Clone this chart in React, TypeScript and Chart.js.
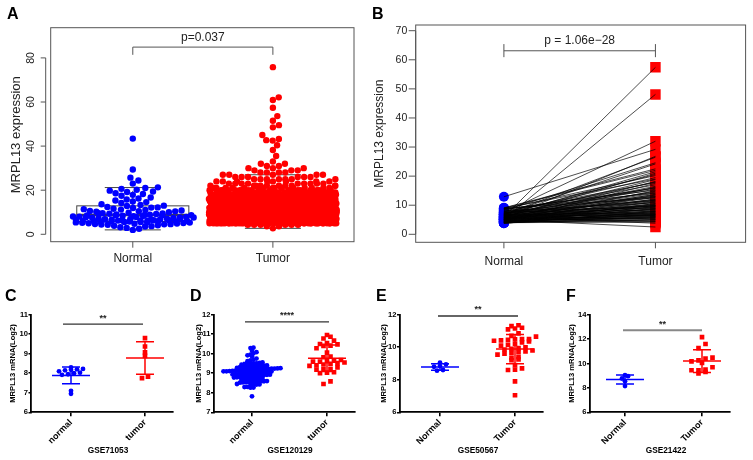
import React, { useEffect, useRef } from "react";
import { Chart, registerables } from "chart.js";

Chart.register(...registerables);

const FONT = "'Liberation Sans', Arial, Helvetica, sans-serif";
const BLUE = "#0000ff";
const RED = "#ff0000";

// ===== Panel A : unpaired TCGA =====
const groupsAB = ["Normal", "Tumor"];
const yTicksA = [0, 20, 40, 60, 80];
const normalA = [
  43.4, 29.4, 25.7, 24.4, 23.0, 21.3, 21.0, 20.6, 20.2, 19.8,
  19.4, 19.2, 18.6, 18.3, 17.9, 17.5, 16.7, 16.2, 15.8, 15.3,
  14.9, 14.6, 14.2, 13.6, 13.3, 13.0, 12.8, 12.4, 12.2, 12.1,
  11.9, 11.6, 11.4, 11.2, 11.0, 10.8, 10.6, 10.5, 10.4, 10.2,
  10.0, 9.8, 9.7, 9.6, 9.5, 9.3, 9.2, 9.0, 8.9, 8.8,
  8.7, 8.6, 8.6, 8.5, 8.4, 8.3, 8.2, 8.1, 8.0, 7.9,
  7.8, 7.7, 7.6, 7.6, 7.5, 7.4, 7.3, 7.2, 7.1, 7.0,
  6.9, 6.8, 6.7, 6.6, 6.6, 6.5, 6.4, 6.3, 6.3, 6.2,
  6.2, 6.1, 6.1, 6.0, 6.0, 5.9, 5.9, 5.8, 5.8, 5.7,
  5.6, 5.6, 5.5, 5.4, 5.3, 5.2, 5.1, 5.0, 4.9, 4.8,
  4.7, 4.6, 4.5, 4.4, 4.3, 4.1, 3.9, 3.7, 3.5, 3.2, 2.9, 2.5, 2.0,
];
const tumorLevelsA = [2.7, 3.6, 4.3, 5, 6, 7, 8, 9, 10, 11, 12, 13, 14, 15, 16, 17, 18, 19, 20, 21, 22, 23, 24, 25, 26, 27, 28, 29, 30, 31, 32, 33];
const tumorCountsA = [1, 2, 6, 45, 60, 70, 75, 75, 70, 65, 60, 55, 50, 45, 40, 35, 30, 25, 20, 14, 10, 9, 8, 7, 6, 5, 4, 3, 3, 2, 2, 1];
const tumorHighA = [35.5, 38.2, 40.4, 42.5, 42.7, 43.2, 45.0, 48.5, 49.5, 51.5, 53.6, 57.4, 60.9, 62.1, 75.8];
const normalBoxA = [2.0, 5.8, 8.7, 12.9, 21.2];
const tumorBoxA = [2.7, 7.0, 10.5, 15.5, 27.0];
const pTextA = "p=0.037";

// ===== Panel B : paired TCGA =====
const yTicksB = [0, 10, 20, 30, 40, 50, 60, 70];
const normalB = [
  12.9, 6.0, 5.2, 7.5, 6.8, 8.2, 5.5, 7.0, 9.0, 6.5,
  5.8, 8.8, 7.2, 6.1, 5.0, 4.6, 7.8, 6.3, 5.4, 8.5,
  6.9, 4.8, 5.9, 7.3, 6.6, 5.1, 4.4, 6.2, 7.7, 5.6,
  8.9, 4.9, 6.4, 5.3, 7.1, 4.2, 6.0, 8.0, 5.7, 4.7,
  6.7, 5.2, 7.4, 4.5, 6.3, 5.5, 8.3, 4.1, 6.1, 5.0,
  7.6, 4.8, 5.8, 3.8, 6.6, 5.3, 4.4, 7.0, 5.6, 4.0,
  6.2, 5.1, 4.1, 4.7, 6.8, 5.4, 4.3, 3.9, 5.9, 4.6,
  3.9, 5.2, 4.9, 6.4, 4.2, 4.2, 5.5, 4.5, 4.0, 6.0,
  5.0, 7.9, 8.9, 8.6, 4.0, 4.0, 5.7, 6.9, 7.2, 4.3,
  5.1, 6.5, 3.8, 8.7, 5.8, 4.6, 6.7, 9.1, 7.4, 5.3,
];
const tumorB = [
  29.2, 57.4, 48.1, 32.0, 26.5, 24.6, 26.8, 24.2, 22.0, 21.5,
  21.0, 20.2, 19.5, 18.8, 18.2, 17.5, 17.0, 16.5, 16.2, 15.8,
  15.5, 15.0, 14.8, 14.5, 14.1, 13.8, 13.5, 13.2, 13.0, 12.7,
  12.5, 12.2, 12.0, 11.8, 11.5, 11.2, 11.0, 10.8, 10.5, 10.3,
  10.1, 9.9, 9.7, 9.5, 9.3, 9.1, 9.0, 8.8, 8.6, 8.5,
  8.3, 8.1, 8.0, 7.8, 7.7, 7.5, 7.4, 7.2, 7.1, 7.0,
  6.9, 6.8, 6.6, 6.5, 6.4, 6.2, 6.1, 6.0, 5.9, 5.8,
  5.6, 5.5, 5.3, 5.1, 5.0, 4.9, 4.6, 4.4, 4.2, 3.8,
  2.5, 17.8, 19.0, 14.2, 9.6, 10.6, 12.9, 20.6, 16.0, 8.9,
  11.4, 13.6, 7.9, 15.2, 9.8, 6.7, 18.0, 22.5, 11.7, 10.0,
];
const pTextB = "p = 1.06e\u221228";

// ===== Panels C-F : GEO datasets =====
const yTitleGP = "MRPL13 mRNA(Log2)";

const groupsC = ["normal", "tumor"];
const yTicksC = [6, 7, 8, 9, 10, 11];
const normalC = [8.3, 8.22, 8.2, 8.18, 8.15, 8.1, 8.03, 8.0, 7.95, 7.92, 7.1, 6.95];
const tumorC = [9.8, 9.37, 9.07, 8.89, 7.83, 7.75];
const normalStatsC = [7.89, 0.43];
const tumorStatsC = [8.78, 0.83];

const groupsD = ["normal", "tumor"];
const yTicksD = [7, 8, 9, 10, 11, 12];
const normalD = [
  10.31, 10.29, 10.15, 10.08, 10.02, 9.95, 9.92, 9.87, 9.75, 9.7, 9.66, 9.62,
  9.55, 9.53, 9.51, 9.5, 9.48, 9.47, 9.45, 9.44,
  9.4, 9.39, 9.38, 9.37, 9.36, 9.35, 9.34, 9.33, 9.32, 9.31,
  9.27, 9.26, 9.25, 9.24, 9.23, 9.22, 9.22, 9.21, 9.2, 9.2, 9.19, 9.18, 9.17, 9.16,
  9.14, 9.13, 9.13, 9.12, 9.11, 9.1, 9.1, 9.09, 9.08, 9.07, 9.06, 9.05, 9.04, 9.03,
  9.0, 8.99, 8.98, 8.97, 8.96, 8.95, 8.94, 8.93, 8.92, 8.91, 8.9,
  8.87, 8.86, 8.85, 8.84, 8.83, 8.82, 8.8, 8.79, 8.78, 8.76,
  8.72, 8.71, 8.7, 8.69, 8.68, 8.67, 8.66,
  8.6, 8.59, 8.58, 8.57, 8.57, 8.56, 8.55, 8.54, 8.53, 8.52,
  8.45, 8.43, 8.42, 8.4, 8.38, 8.3, 8.29, 8.27, 8.26, 7.82,
];
const tumorD = [
  10.96, 10.87, 10.78, 10.67, 10.55, 10.5, 10.48, 10.42, 10.4, 10.28, 10.06,
  9.85, 9.82, 9.68, 9.65, 9.62, 9.6, 9.6, 9.55, 9.52, 9.48, 9.45, 9.4, 9.38,
  9.3, 9.22, 9.2, 9.18, 9.05, 9.03, 9.0, 8.58, 8.45,
];
const normalStatsD = [9.1, 0.45];
const tumorStatsD = [9.77, 0.68];

const groupsE = ["Normal", "Tumor"];
const yTicksE = [6, 8, 10, 12];
const normalE = [9.05, 8.95, 8.84, 8.8, 8.6, 8.56];
const tumorE = [
  11.35, 11.3, 11.2, 11.15, 11.1, 10.85, 10.7, 10.65, 10.5, 10.5, 10.48, 10.45, 10.42,
  10.4, 10.35, 10.3, 10.2, 10.15, 10.1, 10.0, 9.95, 9.9, 9.85, 9.8, 9.75, 9.7,
  9.65, 9.6, 9.55, 9.4, 9.35, 9.25, 9.2, 8.9, 8.7, 8.62, 8.6, 7.9, 7.05,
];
const normalStatsE = [8.78, 0.2];
const tumorStatsE = [9.89, 0.9];

const groupsF = ["Normal", "Tumor"];
const yTicksF = [6, 8, 10, 12, 14];
const normalF = [9.04, 8.96, 8.77, 8.55, 8.15];
const tumorF = [12.16, 11.6, 11.26, 10.48, 10.4, 10.26, 10.18, 10.05, 9.69, 9.5, 9.45, 9.45, 9.3, 9.18];
const normalStatsF = [8.69, 0.37];
const tumorStatsF = [10.2, 0.93];

const datasetTitles = ["GSE71053", "GSE120129", "GSE50567", "GSE21422"];
const panelLetters = ["A", "B", "C", "D", "E", "F"];

// ---------- helpers ----------
function expandLevels(levels: number[], counts: number[]): number[] {
  const out: number[] = [];
  levels.forEach((v, i) => {
    for (let k = 0; k < counts[i]; k++) out.push(v);
  });
  return out;
}

// bee-swarm layout in pixel space (R beeswarm-like): returns horizontal offsets (px)
function swarm(ys: number[], d: number, half: number): number[] {
  const order = ys.map((_, i) => i).sort((a, b) => ys[a] - ys[b] || a - b);
  const placed: number[][] = [];
  const out: number[] = new Array(ys.length).fill(0);
  const d2 = d * d;
  let k = 0;
  for (const i of order) {
    const y = ys[i];
    const near = placed.filter((p) => Math.abs(p[1] - y) < d);
    const cands = [0];
    for (const p of near) {
      const dx = Math.sqrt(Math.max(0, d2 - (p[1] - y) * (p[1] - y)));
      cands.push(p[0] + dx, p[0] - dx);
    }
    cands.sort((a, b) => Math.abs(a) - Math.abs(b) || b - a);
    let best: number | null = null;
    for (const c of cands) {
      if (Math.abs(c) > half) break;
      let ok = true;
      for (const p of near) {
        if ((p[0] - c) * (p[0] - c) + (p[1] - y) * (p[1] - y) < d2 - 1e-6) {
          ok = false;
          break;
        }
      }
      if (ok) {
        best = c;
        break;
      }
    }
    if (best === null) {
      k++;
      out[i] = -half + 2 * half * ((k * 0.6180339887) % 1);
    } else {
      out[i] = best;
      placed.push([best, y]);
    }
  }
  return out;
}

// GraphPad-like scatter layout: bin into rows, spread each row horizontally (px)
function rowSpread(ys: number[], rowH: number, s: number): number[] {
  const rows = new Map<number, number[]>();
  ys.forEach((y, i) => {
    const r = Math.round(y / rowH);
    if (!rows.has(r)) rows.set(r, []);
    rows.get(r)!.push(i);
  });
  const out: number[] = new Array(ys.length).fill(0);
  rows.forEach((idx) => {
    idx.sort((a, b) => ys[a] - ys[b]);
    const n = idx.length;
    idx.forEach((id, j) => {
      out[id] = (j - (n - 1) / 2) * s;
    });
  });
  return out;
}

// R-style decorations: boxplots, frame, axis lines, bracket with p-value
function rPlugin(o: any) {
  return {
    id: "rstyle",
    beforeDatasetsDraw(chart: any) {
      const { ctx, scales } = chart;
      const x = scales.x;
      const y = scales.y;
      const X = (v: number) => x.getPixelForValue(v);
      const Y = (v: number) => y.getPixelForValue(v);
      ctx.save();
      for (const b of o.boxes || []) {
        const [mn, q1, med, q3, mx] = b.stats;
        const xl = X(b.center - 0.4);
        const xr = X(b.center + 0.4);
        const cx = X(b.center);
        const sl = X(b.center - 0.2);
        const sr = X(b.center + 0.2);
        ctx.strokeStyle = "#444";
        ctx.lineWidth = 1;
        ctx.setLineDash([]);
        ctx.strokeRect(xl, Y(q3), xr - xl, Y(q1) - Y(q3));
        ctx.beginPath();
        ctx.moveTo(sl, Y(mn));
        ctx.lineTo(sr, Y(mn));
        ctx.moveTo(sl, Y(mx));
        ctx.lineTo(sr, Y(mx));
        ctx.stroke();
        ctx.lineWidth = 2.5;
        ctx.beginPath();
        ctx.moveTo(xl, Y(med));
        ctx.lineTo(xr, Y(med));
        ctx.stroke();
        ctx.lineWidth = 1;
        ctx.setLineDash([3, 3]);
        ctx.beginPath();
        ctx.moveTo(cx, Y(q3));
        ctx.lineTo(cx, Y(mx));
        ctx.moveTo(cx, Y(q1));
        ctx.lineTo(cx, Y(mn));
        ctx.stroke();
        ctx.setLineDash([]);
      }
      ctx.restore();
    },
    afterDraw(chart: any) {
      const { ctx, chartArea: ca, scales } = chart;
      const x = scales.x;
      const y = scales.y;
      ctx.save();
      ctx.strokeStyle = "#555";
      ctx.lineWidth = 1;
      ctx.strokeRect(ca.left, ca.top, ca.right - ca.left, ca.bottom - ca.top);
      const ax = ca.left - o.axisGap;
      const yt = y.ticks.map((t: any) => y.getPixelForValue(t.value));
      ctx.beginPath();
      ctx.moveTo(ax, yt[0]);
      ctx.lineTo(ax, yt[yt.length - 1]);
      for (const py of yt) {
        ctx.moveTo(ax, py);
        ctx.lineTo(ax - o.tickLen, py);
      }
      for (const t of x.ticks) {
        const px = x.getPixelForValue(t.value);
        ctx.moveTo(px, ca.bottom);
        ctx.lineTo(px, ca.bottom + o.xTickLen);
      }
      ctx.stroke();
      const bk = o.bracket;
      const p1 = x.getPixelForValue(bk.x1);
      const p2 = x.getPixelForValue(bk.x2);
      const pb = y.getPixelForValue(bk.yBar);
      const pt = y.getPixelForValue(bk.yTop);
      const pbo = y.getPixelForValue(bk.yBot);
      ctx.beginPath();
      ctx.moveTo(p1, pb);
      ctx.lineTo(p2, pb);
      ctx.moveTo(p1, pt);
      ctx.lineTo(p1, pbo);
      ctx.moveTo(p2, pt);
      ctx.lineTo(p2, pbo);
      ctx.stroke();
      ctx.fillStyle = "#222";
      ctx.font = `12px ${FONT}`;
      ctx.textAlign = "center";
      ctx.textBaseline = "middle";
      ctx.fillText(bk.text, (p1 + p2) / 2, y.getPixelForValue(bk.yText));
      ctx.restore();
    },
  };
}

// GraphPad-style decorations: mean +/- SD and significance bar
function gpPlugin(p: any) {
  return {
    id: "gp",
    afterDatasetsDraw(chart: any) {
      const { ctx, scales } = chart;
      const x = scales.x;
      const y = scales.y;
      ctx.save();
      [p.nStats, p.tStats].forEach((s: number[], g: number) => {
        const [m, sd] = s;
        const cx = x.getPixelForValue(g);
        const ym = y.getPixelForValue(m);
        const yu = y.getPixelForValue(m + sd);
        const yl = y.getPixelForValue(m - sd);
        ctx.strokeStyle = g === 0 ? BLUE : RED;
        ctx.lineWidth = 1.5;
        ctx.beginPath();
        ctx.moveTo(cx - 19, ym);
        ctx.lineTo(cx + 19, ym);
        ctx.moveTo(cx, yu);
        ctx.lineTo(cx, yl);
        ctx.moveTo(cx - 9, yu);
        ctx.lineTo(cx + 9, yu);
        ctx.moveTo(cx - 9, yl);
        ctx.lineTo(cx + 9, yl);
        ctx.stroke();
      });
      const [x1, x2, yv] = p.sig;
      const px1 = x.getPixelForValue(x1);
      const px2 = x.getPixelForValue(x2);
      const py = y.getPixelForValue(yv);
      ctx.strokeStyle = p.sigColor;
      ctx.lineWidth = p.sigWidth;
      ctx.beginPath();
      ctx.moveTo(px1, py);
      ctx.lineTo(px2, py);
      ctx.stroke();
      ctx.fillStyle = "#222";
      ctx.font = `bold 9px ${FONT}`;
      ctx.textAlign = "center";
      ctx.textBaseline = "middle";
      ctx.fillText(p.sigText, (px1 + px2) / 2, py - 6);
      ctx.restore();
    },
  };
}

// ---------- chart configs ----------
function configA() {
  const PX_X = 140;
  const PX_Y = 2.204;
  const tumorVals = expandLevels(tumorLevelsA, tumorCountsA).concat(tumorHighA);
  const nOff = swarm(normalA.map((v) => v * PX_Y), 6.4, 61);
  const tOff = swarm(tumorVals.map((v) => v * PX_Y), 6.4, 64);
  return {
    type: "scatter",
    data: {
      datasets: [
        {
          data: normalA.map((v, i) => ({ x: 1 + nOff[i] / PX_X, y: v })),
          backgroundColor: BLUE,
          pointRadius: 3.2,
          borderWidth: 0,
        },
        {
          data: tumorVals.map((v, i) => ({ x: 2 + tOff[i] / PX_X, y: v })),
          backgroundColor: RED,
          pointRadius: 3.2,
          borderWidth: 0,
        },
      ],
    },
    options: {
      responsive: false,
      animation: false,
      devicePixelRatio: 1,
      events: [],
      layout: { padding: { top: 27.7, right: 16, left: 0, bottom: 0 } },
      plugins: { legend: { display: false }, tooltip: { enabled: false } },
      scales: {
        x: {
          type: "linear",
          min: 0.414,
          max: 2.579,
          afterFit: (s: any) => {
            s.height = 270 - 241.7;
          },
          afterBuildTicks: (s: any) => {
            s.ticks = [1, 2].map((v) => ({ value: v }));
          },
          ticks: {
            callback: (_v: any, i: number) => groupsAB[i],
            autoSkip: false,
            maxRotation: 0,
            font: { family: FONT, size: 12 },
            color: "#222",
            padding: 10,
          },
          grid: { display: false, drawTicks: false },
          border: { display: false },
        },
        y: {
          type: "linear",
          min: -3.36,
          max: 93.7,
          afterFit: (s: any) => {
            s.width = 50.7;
          },
          afterBuildTicks: (s: any) => {
            s.ticks = yTicksA.map((v) => ({ value: v }));
          },
          ticks: {
            callback: (v: any) => String(v),
            autoSkip: false,
            minRotation: 90,
            maxRotation: 90,
            crossAlign: "center",
            padding: 13.3,
            font: { family: FONT, size: 10.5 },
            color: "#222",
          },
          grid: { display: false, drawTicks: false },
          border: { display: false },
          title: {
            display: true,
            text: "MRPL13 expression",
            font: { family: FONT, size: 13 },
            color: "#222",
            padding: { top: 8.2, bottom: 0 },
          },
        },
      },
    },
    plugins: [
      rPlugin({
        axisGap: 5,
        tickLen: 5,
        xTickLen: 6,
        boxes: [
          { center: 1, stats: normalBoxA },
          { center: 2, stats: tumorBoxA },
        ],
        bracket: { x1: 1, x2: 2, yBar: 84.9, yTop: 84.9, yBot: 81.4, yText: 89.2, text: pTextA },
      }),
    ],
  };
}

function configB() {
  const lines = normalB.map((n, i) => ({
    data: [
      { x: 1, y: n },
      { x: 2, y: tumorB[i] },
    ],
    showLine: true,
    borderColor: "#000",
    borderWidth: 0.7,
    pointRadius: 0,
    order: 0,
  }));
  return {
    type: "scatter",
    data: {
      datasets: [
        {
          data: normalB.map((v) => ({ x: 1, y: v })),
          backgroundColor: BLUE,
          pointRadius: 5,
          borderWidth: 0,
          order: 1,
        },
        {
          data: tumorB.map((v) => ({ x: 2, y: v })),
          backgroundColor: RED,
          pointStyle: "rect",
          pointRadius: 7.4,
          borderWidth: 0,
          order: 1,
        },
        ...lines,
      ],
    },
    options: {
      responsive: false,
      animation: false,
      devicePixelRatio: 1,
      events: [],
      layout: { padding: { top: 25, right: 4, left: 0, bottom: 0 } },
      plugins: { legend: { display: false }, tooltip: { enabled: false } },
      scales: {
        x: {
          type: "linear",
          min: 0.418,
          max: 2.595,
          afterFit: (s: any) => {
            s.height = 270 - 242.3;
          },
          afterBuildTicks: (s: any) => {
            s.ticks = [1, 2].map((v) => ({ value: v }));
          },
          ticks: {
            callback: (_v: any, i: number) => groupsAB[i],
            autoSkip: false,
            maxRotation: 0,
            font: { family: FONT, size: 12 },
            color: "#222",
            padding: 12.2,
          },
          grid: { display: false, drawTicks: false },
          border: { display: false },
        },
        y: {
          type: "linear",
          min: -2.75,
          max: 71.96,
          afterFit: (s: any) => {
            s.width = 45.7;
          },
          afterBuildTicks: (s: any) => {
            s.ticks = yTicksB.map((v) => ({ value: v }));
          },
          ticks: {
            callback: (v: any) => String(v),
            autoSkip: false,
            padding: 8.4,
            font: { family: FONT, size: 10.5 },
            color: "#222",
          },
          grid: { display: false, drawTicks: false },
          border: { display: false },
          title: {
            display: true,
            text: "MRPL13 expression",
            font: { family: FONT, size: 12 },
            color: "#222",
            padding: { top: 2.8, bottom: 0 },
          },
        },
      },
    },
    plugins: [
      rPlugin({
        axisGap: 0,
        tickLen: 7,
        xTickLen: 6,
        boxes: [],
        bracket: { x1: 1, x2: 2, yBar: 63.1, yTop: 65.4, yBot: 60.9, yText: 66.6, text: pTextB },
      }),
    ],
  };
}

const GP_TOP = 300;
const GP_H = 160;

function makeGP(p: any) {
  return () => {
    const yMin = p.yTicks[0];
    const yMax = p.yTicks[p.yTicks.length - 1];
    const pxY = 97.6 / (yMax - yMin);
    const pxX = (p.w - p.rightPad - p.axisW) / (p.xMax - p.xMin);
    const nOff = rowSpread(p.normal.map((v: number) => v * pxY), p.rowN[0], p.rowN[1]);
    const tOff = rowSpread(p.tumor.map((v: number) => v * pxY), p.rowT[0], p.rowT[1]);
    return {
      type: "scatter",
      data: {
        datasets: [
          {
            data: p.normal.map((v: number, i: number) => ({ x: nOff[i] / pxX, y: v })),
            backgroundColor: BLUE,
            pointRadius: 2.4,
            borderWidth: 0,
          },
          {
            data: p.tumor.map((v: number, i: number) => ({ x: 1 + tOff[i] / pxX, y: v })),
            backgroundColor: RED,
            pointStyle: "rect",
            pointRadius: 3.3,
            borderWidth: 0,
          },
        ],
      },
      options: {
        responsive: false,
        animation: false,
        devicePixelRatio: 1,
        events: [],
        layout: { padding: { top: 314.7 - GP_TOP, right: p.rightPad, left: 0, bottom: 0 } },
        plugins: { legend: { display: false }, tooltip: { enabled: false } },
        scales: {
          x: {
            type: "linear",
            min: p.xMin,
            max: p.xMax,
            afterFit: (s: any) => {
              s.height = GP_H - (412.3 - GP_TOP);
            },
            afterBuildTicks: (s: any) => {
              s.ticks = [0, 1].map((v) => ({ value: v }));
            },
            ticks: {
              callback: (_v: any, i: number) => p.labels[i],
              autoSkip: false,
              minRotation: 45,
              maxRotation: 45,
              font: { family: FONT, size: 9, weight: "bold" },
              color: "#000",
              padding: 1,
            },
            grid: { display: true, drawOnChartArea: false, drawTicks: true, tickLength: 4, color: "#000", lineWidth: 1.6 },
            border: { display: true, color: "#000", width: 1.8 },
          },
          y: {
            type: "linear",
            min: yMin,
            max: yMax,
            afterFit: (s: any) => {
              s.width = p.axisW;
            },
            afterBuildTicks: (s: any) => {
              s.ticks = p.yTicks.map((v: number) => ({ value: v }));
            },
            ticks: {
              callback: (v: any) => String(v),
              autoSkip: false,
              font: { family: FONT, size: 7.6, weight: "bold" },
              color: "#000",
              padding: 0.5,
            },
            grid: { display: true, drawOnChartArea: false, drawTicks: true, tickLength: 2.5, color: "#000", lineWidth: 1.6 },
            border: { display: true, color: "#000", width: 1.8 },
            title: {
              display: true,
              text: yTitleGP,
              font: { family: FONT, size: 7.6, weight: "bold" },
              color: "#000",
              padding: { top: p.titlePad, bottom: 0 },
            },
          },
        },
      },
      plugins: [gpPlugin(p)],
    };
  };
}

const gpPanels = [
  {
    x0: 0, w: 185, axisW: 31, rightPad: 12, xMin: -0.5405, xMax: 1.3784, titlePad: 8.0,
    labels: groupsC, yTicks: yTicksC, normal: normalC, tumor: tumorC, nStats: normalStatsC, tStats: tumorStatsC,
    sig: [-0.108, 0.973, 10.52], sigText: "**", sigColor: "#333", sigWidth: 1.3, rowN: [4, 6], rowT: [4, 6],
  },
  {
    x0: 185, w: 185, axisW: 28.5, rightPad: 15, xMin: -0.513, xMax: 1.3733, titlePad: 9.2,
    labels: groupsD, yTicks: yTicksD, normal: normalD, tumor: tumorD, nStats: normalStatsD, tStats: tumorStatsD,
    sig: [-0.093, 1.027, 11.63], sigText: "****", sigColor: "#333", sigWidth: 1.3, rowN: [3.2, 3], rowT: [4.5, 7],
  },
  {
    x0: 370, w: 190, axisW: 29.5, rightPad: 17, xMin: -0.54, xMax: 1.3733, titlePad: 9.0,
    labels: groupsE, yTicks: yTicksE, normal: normalE, tumor: tumorE, nStats: normalStatsE, tStats: tumorStatsE,
    sig: [-0.027, 1.04, 11.92], sigText: "**", sigColor: "#333", sigWidth: 1.3, rowN: [4, 6], rowT: [4.5, 7],
  },
  {
    x0: 560, w: 193, axisW: 29.5, rightPad: 23, xMin: -0.461, xMax: 1.3636, titlePad: 7.2,
    labels: groupsF, yTicks: yTicksF, normal: normalF, tumor: tumorF, nStats: normalStatsF, tStats: tumorStatsF,
    sig: [-0.026, 1.0, 12.72], sigText: "**", sigColor: "#888", sigWidth: 2, rowN: [4, 6], rowT: [4.5, 7],
  },
];

const letterPos = [
  [7, 6.3], [372, 6.3], [5, 288.2], [190, 288.2], [376, 288.2], [566, 288.2],
];
const titleCenters = [108, 290, 478, 666];

function ChartBox({ x, y, w, h, make }: any) {
  const ref = useRef<HTMLCanvasElement | null>(null);
  useEffect(() => {
    if (!ref.current) return;
    const chart = new Chart(ref.current, make());
    return () => chart.destroy();
  }, []);
  return (
    <div style={{ position: "absolute", left: x, top: y, width: w, height: h }}>
      <canvas ref={ref} width={w} height={h} style={{ width: w, height: h, display: "block" }} />
    </div>
  );
}

export default function App() {
  return (
    <div
      style={{
        position: "absolute",
        left: 0,
        top: 0,
        width: 753,
        height: 460,
        background: "#fff",
        overflow: "hidden",
        fontFamily: FONT,
      }}
    >
      <ChartBox x={0} y={0} w={370} h={270} make={configA} />
      <ChartBox x={370} y={0} w={383} h={270} make={configB} />
      {gpPanels.map((p, i) => (
        <ChartBox key={i} x={p.x0} y={GP_TOP} w={p.w} h={GP_H} make={makeGP(p)} />
      ))}
      {panelLetters.map((t, i) => (
        <div
          key={t}
          style={{
            position: "absolute",
            left: letterPos[i][0],
            top: letterPos[i][1],
            fontSize: 16,
            lineHeight: "16px",
            fontWeight: "bold",
            color: "#000",
            whiteSpace: "nowrap",
          }}
        >
          {t}
        </div>
      ))}
      {datasetTitles.map((t, i) => (
        <div
          key={t}
          style={{
            position: "absolute",
            left: titleCenters[i] - 50,
            width: 100,
            top: 446,
            textAlign: "center",
            fontSize: 8.3,
            lineHeight: "8.3px",
            fontWeight: "bold",
            color: "#000",
            whiteSpace: "nowrap",
          }}
        >
          {t}
        </div>
      ))}
    </div>
  );
}
